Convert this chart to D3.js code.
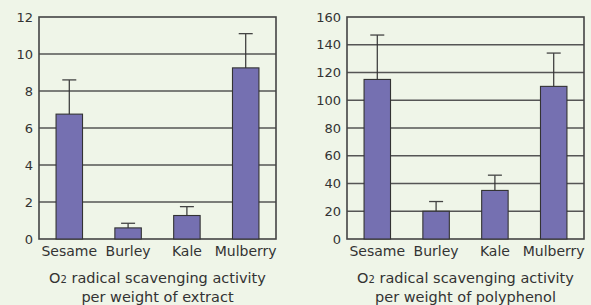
<!DOCTYPE html><meta charset="utf-8">
<html>
<head>
<script src="https://cdn.jsdelivr.net/npm/d3@7/dist/d3.min.js"></script>
<style>
  body { margin: 0; background: #eff5e8; }
  text { font-family: "DejaVu Sans", "Noto Sans", sans-serif; fill: #333; }
</style>
</head>
<body>
<svg id="viz"></svg>
<script>
// data
var categories = ["Sesame", "Burley", "Kale", "Mulberry"];
var extractMean = [6.75, 0.6, 1.27, 9.25];
var extractErr = [8.6, 0.85, 1.75, 11.1];
var polyMean = [115, 20, 35, 110];
var polyErr = [147, 27, 46, 134];
var extractTicks = [0, 2, 4, 6, 8, 10, 12];
var polyTicks = [0, 20, 40, 60, 80, 100, 120, 140, 160];

var width = 591, height = 305;
var svg = d3.select("#viz").attr("width", width).attr("height", height);
svg.append("rect").attr("width", width).attr("height", height).attr("fill", "#eff5e8");

function drawPanel(left, right, top, bottom, means, errs, ticks, title) {
    var g = svg.append("g");
    var x = d3.scaleBand().domain(categories).range([left, right]).paddingInner(0.55).paddingOuter(0.29);
    var y = d3.scaleLinear().domain([0, ticks[ticks.length - 1]]).range([bottom, top]);

    // gridlines
    g.selectAll("line.grid").data(ticks.slice(1, -1)).enter().append("line")
        .attr("x1", left).attr("x2", right)
        .attr("y1", function(d) { return y(d); }).attr("y2", function(d) { return y(d); })
        .attr("stroke", "#555").attr("stroke-width", 1.3);

    // frame
    g.append("rect").attr("x", left).attr("y", top)
        .attr("width", right - left).attr("height", bottom - top)
        .attr("fill", "none").attr("stroke", "#444").attr("stroke-width", 1.6);

    // error bars
    var data = categories.map(function(c, i) { return {c: c, v: means[i], e: errs[i]}; });
    g.selectAll("line.err").data(data).enter().append("line")
        .attr("x1", function(d) { return x(d.c) + x.bandwidth() / 2; })
        .attr("x2", function(d) { return x(d.c) + x.bandwidth() / 2; })
        .attr("y1", function(d) { return y(d.v); }).attr("y2", function(d) { return y(d.e); })
        .attr("stroke", "#333").attr("stroke-width", 1.2);
    g.selectAll("line.cap").data(data).enter().append("line")
        .attr("x1", function(d) { return x(d.c) + x.bandwidth() / 2 - 7; })
        .attr("x2", function(d) { return x(d.c) + x.bandwidth() / 2 + 7; })
        .attr("y1", function(d) { return y(d.e); }).attr("y2", function(d) { return y(d.e); })
        .attr("stroke", "#444").attr("stroke-width", 1.3);

    // bars
    g.selectAll("rect.bar").data(data).enter().append("rect")
        .attr("x", function(d) { return x(d.c); })
        .attr("width", x.bandwidth())
        .attr("y", function(d) { return y(d.v); })
        .attr("height", function(d) { return bottom - y(d.v); })
        .attr("fill", "#7570b1").attr("stroke", "#333").attr("stroke-width", 1.1);

    // y axis labels
    var yAxis = d3.axisLeft(y).tickValues(ticks).tickSize(0).tickPadding(6);
    var ya = g.append("g").attr("transform", "translate(" + left + ",0)").call(yAxis);
    ya.select(".domain").remove();
    ya.selectAll("text").style("font-size", "13px").style("font-family", "DejaVu Sans").attr("fill", "#333");

    // x axis labels
    var xAxis = d3.axisBottom(x).tickSize(0).tickPadding(7);
    var xa = g.append("g").attr("transform", "translate(0," + bottom + ")").call(xAxis);
    xa.select(".domain").remove();
    xa.selectAll("text").style("font-size", "14px").style("font-family", "DejaVu Sans").attr("fill", "#333");

    // title
    var cx = (left + right) / 2;
    var t1 = g.append("text").attr("x", cx).attr("y", 283).attr("text-anchor", "middle").style("font-size", "14.5px");
    t1.append("tspan").text("O");
    t1.append("tspan").text("2").style("font-size", "10px");
    t1.append("tspan").text(" radical scavenging activity");
    g.append("text").attr("x", cx).attr("y", 302).attr("text-anchor", "middle").style("font-size", "14.5px").text(title);
}

drawPanel(39, 276, 17, 239, extractMean, extractErr, extractTicks, "per weight of extract");
drawPanel(347, 584, 17, 239, polyMean, polyErr, polyTicks, "per weight of polyphenol");
</script>
</body>
</html>
